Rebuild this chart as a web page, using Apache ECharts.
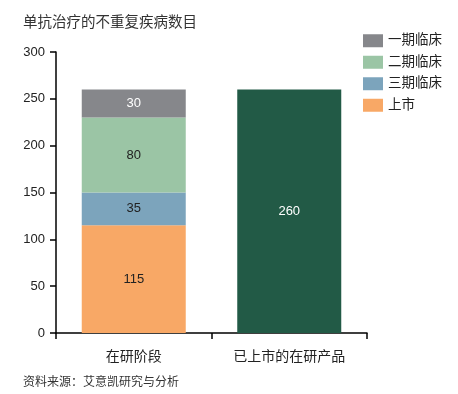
<!DOCTYPE html>
<html>
<head>
<meta charset="utf-8">
<script src="https://cdn.jsdelivr.net/npm/echarts@6/dist/echarts.min.js"></script>
<style>html,body{margin:0;padding:0;background:#fff}#c{width:458px;height:394px}</style>
</head>
<body>
<div id="c"></div>
<script>
var categories = ['在研阶段', '已上市的在研产品'];
var seriesNames = ['一期临床', '二期临床', '三期临床', '上市'];
var phase1 = [30, '-'];
var phase2 = [80, '-'];
var phase3 = [35, '-'];
var marketed = [115, '-'];
var marketedInDev = ['-', 260];
var yTicks = [0, 50, 100, 150, 200, 250, 300];

var FONT = '"Liberation Sans", "Noto Sans CJK SC", sans-serif';
var chart = echarts.init(document.getElementById('c'), null, {renderer: 'canvas'});

function lbl(color) {
  return {show: true, position: 'inside', color: color, fontSize: 13, fontFamily: FONT};
}

chart.setOption({
  animation: false,
  textStyle: {fontFamily: FONT},
  title: [{
    text: '单抗治疗的不重复疾病数目', left: 23, top: 16, padding: 0,
    textStyle: {fontSize: 14.5, fontWeight: 'normal', color: '#333', fontFamily: FONT}
  }, {
    text: '资料来源：艾意凯研究与分析', left: 23, top: 377, padding: 0,
    textStyle: {fontSize: 12, fontWeight: 'normal', color: '#333', fontFamily: FONT}
  }],
  legend: {
    orient: 'vertical', left: 363, top: 34, padding: 0, itemWidth: 20, itemHeight: 13, itemGap: 8,
    data: seriesNames,
    textStyle: {fontSize: 13.5, color: '#222', fontFamily: FONT},
    icon: 'rect'
  },
  grid: {left: 56, right: 91, top: 52, bottom: 61, containLabel: false},
  xAxis: {
    type: 'category', data: categories,
    axisLine: {lineStyle: {color: '#000', width: 1.5}},
    axisTick: {show: true, length: 6, lineStyle: {color: '#000', width: 1.5}},
    axisLabel: {fontSize: 14, color: '#222', margin: 17, fontFamily: FONT}
  },
  yAxis: {
    type: 'value', min: yTicks[0], max: yTicks[yTicks.length - 1], interval: 50,
    axisLine: {show: true, lineStyle: {color: '#000', width: 1.5}},
    axisTick: {show: true, length: 6, lineStyle: {color: '#000', width: 1.5}},
    splitLine: {show: false},
    axisLabel: {fontSize: 13, color: '#222', margin: 11, fontFamily: FONT}
  },
  series: [
    {name: '上市', type: 'bar', stack: 'a', data: marketed, barWidth: 104, barGap: '-100%',
     itemStyle: {color: '#f8a866'}, label: lbl('#222')},
    {name: '三期临床', type: 'bar', stack: 'a', data: phase3,
     itemStyle: {color: '#7ca4bc'}, label: lbl('#222')},
    {name: '二期临床', type: 'bar', stack: 'a', data: phase2,
     itemStyle: {color: '#9bc5a5'}, label: lbl('#222')},
    {name: '一期临床', type: 'bar', stack: 'a', data: phase1,
     itemStyle: {color: '#86878b'}, label: lbl('#fff')},
    {name: '已上市的在研产品', type: 'bar', data: marketedInDev, barWidth: 104, barGap: '-100%',
     itemStyle: {color: '#225a46'}, label: lbl('#fff')}
  ]
});
</script>
</body>
</html>
